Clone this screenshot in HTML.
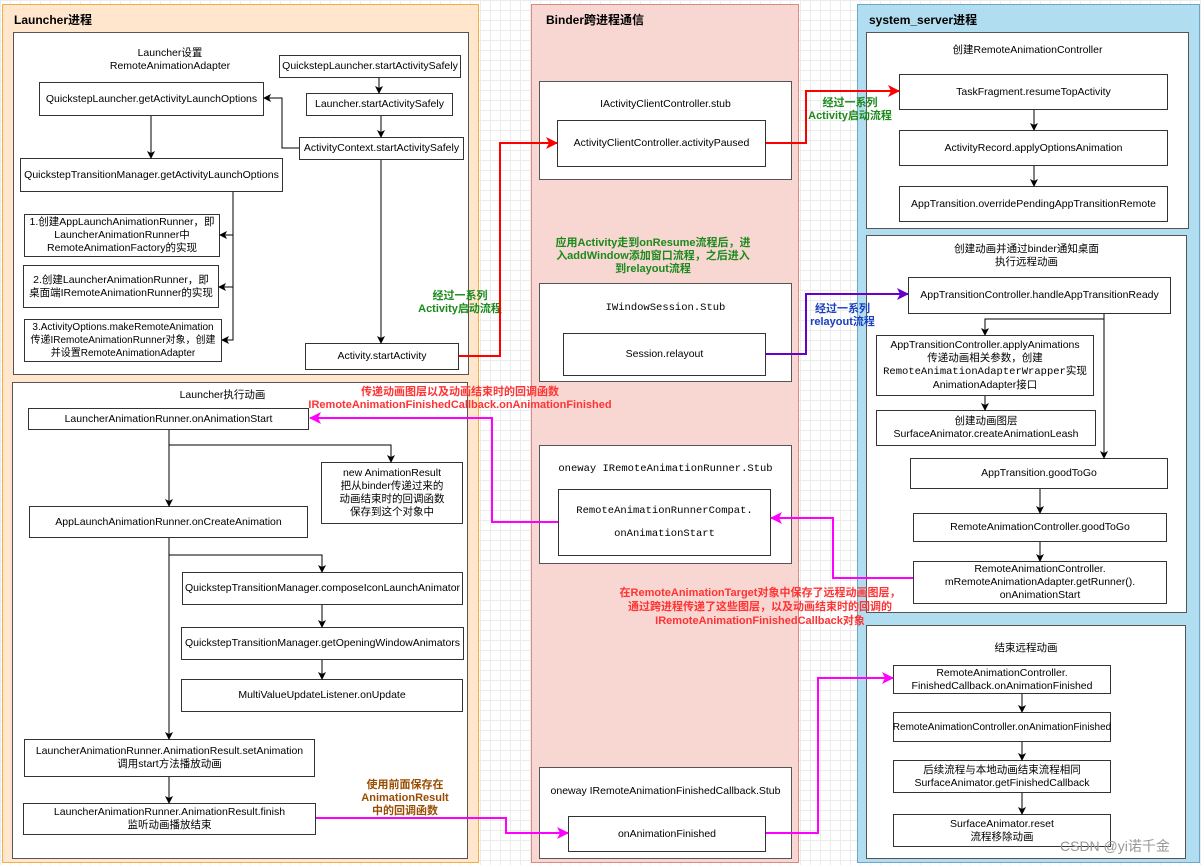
<!DOCTYPE html>
<html><head><meta charset="utf-8"><style>
body{margin:0;width:1201px;height:865px;overflow:hidden;position:relative;font-family:"Liberation Sans","Noto Sans CJK SC",sans-serif;font-size:10.5px;color:#000;
background-color:#fff;background-image:linear-gradient(#ececec 1px,transparent 1px),linear-gradient(90deg,#ececec 1px,transparent 1px);background-size:10px 10px;}
div{position:absolute;box-sizing:border-box}
.c{display:flex;align-items:center;justify-content:center;text-align:center;line-height:13px;white-space:nowrap}
.b{background:#fff;border:1px solid #333}
.g{border:1px solid #555;background:#fff}
.t{font-weight:bold;font-size:12px}
.m{font-family:"Liberation Mono","Noto Sans CJK SC",monospace}
.lab{font-weight:bold;text-align:center;line-height:13px;font-size:11px}
svg{position:absolute;left:0;top:0}
</style></head><body>
<div style="left:2px;top:4px;width:477px;height:859px;background:#ffe6cc;border:1px solid #f0b046"></div>
<div style="left:531px;top:4px;width:268px;height:859px;background:#f8d6d2;border:1px solid #d98a84"></div>
<div style="left:857px;top:4px;width:343px;height:859px;background:#b1ddf0;border:1px solid #6ea6c6"></div>
<div class="t" style="left:14px;top:11px">Launcher进程</div>
<div class="t" style="left:546px;top:11px">Binder跨进程通信</div>
<div class="t" style="left:869px;top:11px">system_server进程</div>

<div class="g" style="left:13px;top:32px;width:456px;height:343px"></div>
<div class="g" style="left:12px;top:382px;width:456px;height:477px"></div>
<div class="g" style="left:866px;top:32px;width:323px;height:197px"></div>
<div class="g" style="left:866px;top:235px;width:321px;height:378px"></div>
<div class="g" style="left:866px;top:625px;width:320px;height:234px"></div>
<div class="g" style="left:539px;top:81px;width:253px;height:99px"></div>
<div class="g" style="left:539px;top:283px;width:253px;height:99px"></div>
<div class="g" style="left:539px;top:445px;width:253px;height:119px"></div>
<div class="g" style="left:539px;top:767px;width:253px;height:92px"></div>

<!-- launcher top -->
<div class="c" style="left:90px;top:46px;width:160px;height:28px"><span>Launcher设置<br>RemoteAnimationAdapter</span></div>
<div class="b c" style="left:279px;top:55px;width:182px;height:23px">QuickstepLauncher.startActivitySafely</div>
<div class="b c" style="left:306px;top:93px;width:147px;height:23px">Launcher.startActivitySafely</div>
<div class="b c" style="left:299px;top:137px;width:165px;height:23px">ActivityContext.startActivitySafely</div>
<div class="b c" style="left:39px;top:82px;width:225px;height:34px">QuickstepLauncher.getActivityLaunchOptions</div>
<div class="b c" style="left:20px;top:158px;width:263px;height:34px">QuickstepTransitionManager.getActivityLaunchOptions</div>
<div class="b c" style="left:24px;top:214px;width:196px;height:43px"><span>1.创建AppLaunchAnimationRunner，即<br>LauncherAnimationRunner中<br>RemoteAnimationFactory的实现</span></div>
<div class="b c" style="left:23px;top:265px;width:196px;height:43px"><span>2.创建LauncherAnimationRunner，即<br>桌面端IRemoteAnimationRunner的实现</span></div>
<div class="b c" style="left:24px;top:319px;width:198px;height:43px;font-size:10px"><span>3.ActivityOptions.makeRemoteAnimation<br>传递IRemoteAnimationRunner对象，创建<br>并设置RemoteAnimationAdapter</span></div>
<div class="b c" style="left:305px;top:343px;width:154px;height:27px">Activity.startActivity</div>

<!-- launcher bottom -->
<div class="c" style="left:150px;top:388px;width:145px;height:15px">Launcher执行动画</div>
<div class="b c" style="left:28px;top:408px;width:281px;height:22px">LauncherAnimationRunner.onAnimationStart</div>
<div class="b c" style="left:321px;top:462px;width:142px;height:62px"><span>new AnimationResult<br>把从binder传递过来的<br>动画结束时的回调函数<br>保存到这个对象中</span></div>
<div class="b c" style="left:29px;top:506px;width:279px;height:32px">AppLaunchAnimationRunner.onCreateAnimation</div>
<div class="b c" style="left:182px;top:572px;width:281px;height:33px">QuickstepTransitionManager.composeIconLaunchAnimator</div>
<div class="b c" style="left:181px;top:627px;width:283px;height:33px">QuickstepTransitionManager.getOpeningWindowAnimators</div>
<div class="b c" style="left:181px;top:679px;width:282px;height:33px">MultiValueUpdateListener.onUpdate</div>
<div class="b c" style="left:24px;top:739px;width:291px;height:38px"><span>LauncherAnimationRunner.AnimationResult.setAnimation<br>调用start方法播放动画</span></div>
<div class="b c" style="left:23px;top:803px;width:293px;height:32px"><span>LauncherAnimationRunner.AnimationResult.finish<br>监听动画播放结束</span></div>

<!-- binder -->
<div class="c" style="left:539px;top:96px;width:253px;height:16px">IActivityClientController.stub</div>
<div class="b c" style="left:557px;top:120px;width:209px;height:47px">ActivityClientController.activityPaused</div>
<div class="c m" style="left:539px;top:300px;width:253px;height:16px">IWindowSession.Stub</div>
<div class="b c" style="left:563px;top:333px;width:203px;height:43px">Session.relayout</div>
<div class="c m" style="left:539px;top:461px;width:253px;height:16px">oneway IRemoteAnimationRunner.Stub</div>
<div class="b c m" style="left:558px;top:489px;width:213px;height:67px;line-height:23px"><span>RemoteAnimationRunnerCompat.<br>onAnimationStart</span></div>
<div class="c" style="left:539px;top:783px;width:253px;height:16px">oneway IRemoteAnimationFinishedCallback.Stub</div>
<div class="b c" style="left:568px;top:816px;width:198px;height:36px">onAnimationFinished</div>

<!-- system server -->
<div class="c" style="left:866px;top:42px;width:323px;height:16px">创建RemoteAnimationController</div>
<div class="b c" style="left:899px;top:74px;width:269px;height:36px">TaskFragment.resumeTopActivity</div>
<div class="b c" style="left:899px;top:130px;width:269px;height:36px">ActivityRecord.applyOptionsAnimation</div>
<div class="b c" style="left:899px;top:186px;width:269px;height:36px">AppTransition.overridePendingAppTransitionRemote</div>
<div class="c" style="left:866px;top:242px;width:321px;height:28px"><span>创建动画并通过binder通知桌面<br>执行远程动画</span></div>
<div class="b c" style="left:908px;top:277px;width:263px;height:37px">AppTransitionController.handleAppTransitionReady</div>
<div class="b c" style="left:876px;top:335px;width:218px;height:61px"><span>AppTransitionController.applyAnimations<br>传递动画相关参数，创建<br><span class="m">RemoteAnimationAdapterWrapper</span>实现<br>AnimationAdapter接口</span></div>
<div class="b c" style="left:876px;top:410px;width:220px;height:36px"><span>创建动画图层<br>SurfaceAnimator.createAnimationLeash</span></div>
<div class="b c" style="left:910px;top:458px;width:258px;height:31px">AppTransition.goodToGo</div>
<div class="b c" style="left:913px;top:513px;width:254px;height:29px">RemoteAnimationController.goodToGo</div>
<div class="b c" style="left:913px;top:561px;width:254px;height:43px"><span>RemoteAnimationController.<br>mRemoteAnimationAdapter.getRunner().<br>onAnimationStart</span></div>
<div class="c" style="left:866px;top:640px;width:320px;height:16px">结束远程动画</div>
<div class="b c" style="left:893px;top:665px;width:218px;height:29px"><span>RemoteAnimationController.<br>FinishedCallback.onAnimationFinished</span></div>
<div class="b c" style="left:893px;top:712px;width:218px;height:30px;font-size:10px">RemoteAnimationController.onAnimationFinished</div>
<div class="b c" style="left:893px;top:760px;width:218px;height:33px"><span>后续流程与本地动画结束流程相同<br>SurfaceAnimator.getFinishedCallback</span></div>
<div class="b c" style="left:893px;top:814px;width:218px;height:33px"><span>SurfaceAnimator.reset<br>流程移除动画</span></div>

<!-- labels -->
<div class="lab" style="left:400px;top:290px;width:120px;color:#1a8a1a">经过一系列<br>Activity启动流程</div>
<div class="lab" style="left:790px;top:97px;width:120px;color:#1a8a1a">经过一系列<br>Activity启动流程</div>
<div class="lab" style="left:548px;top:237px;width:210px;color:#1a8a1a">应用Activity走到onResume流程后，进<br>入addWindow添加窗口流程，之后进入<br>到relayout流程</div>
<div class="lab" style="left:790px;top:303px;width:105px;color:#1a3fbf">经过一系列<br>relayout流程</div>
<div class="lab" style="left:300px;top:386px;width:320px;color:#ff3333">传递动画图层以及动画结束时的回调函数<br>IRemoteAnimationFinishedCallback.onAnimationFinished</div>
<div class="lab" style="left:590px;top:586px;width:340px;color:#ff3333;line-height:14px">在RemoteAnimationTarget对象中保存了远程动画图层，<br>通过跨进程传递了这些图层，以及动画结束时的回调的<br>IRemoteAnimationFinishedCallback对象</div>
<div class="lab" style="left:340px;top:779px;width:130px;color:#994c00">使用前面保存在<br>AnimationResult<br>中的回调函数</div>
<div style="left:1060px;top:836px;font-size:14px;color:#999">CSDN @yi诺千金</div>

<svg width="1201" height="865" viewBox="0 0 1201 865">
<defs>
<marker id="k" markerWidth="8" markerHeight="8" refX="7" refY="4" orient="auto" markerUnits="userSpaceOnUse"><path d="M0,0L8,4L0,8L2,4z" fill="#000"/></marker>
<marker id="r" markerWidth="12" markerHeight="12" refX="11" refY="6" orient="auto" markerUnits="userSpaceOnUse"><path d="M0,0L12,6L0,12L3,6z" fill="#ff0000"/></marker>
<marker id="p" markerWidth="12" markerHeight="12" refX="11" refY="6" orient="auto" markerUnits="userSpaceOnUse"><path d="M0,0L12,6L0,12L3,6z" fill="#6600cc"/></marker>
<marker id="mg" markerWidth="12" markerHeight="12" refX="11" refY="6" orient="auto" markerUnits="userSpaceOnUse"><path d="M0,0L12,6L0,12L3,6z" fill="#ff00ff"/></marker>
</defs>
<g stroke="#000" fill="none" stroke-width="1" marker-end="url(#k)">
<path d="M379,78V93"/><path d="M381,116V137"/>
<path d="M299,148H282V98H264"/>
<path d="M151,116V158"/>
<path d="M233,192V235H220"/><path d="M233,287H219"/><path d="M233,235V340H222"/>
<path d="M381,160V343"/>
<path d="M169,430V506"/><path d="M169,445H391V462"/>
<path d="M169,538V739"/><path d="M169,555H322V572"/>
<path d="M322,605V627"/><path d="M322,660V679"/>
<path d="M169,777V803"/>
<path d="M1034,110V130"/><path d="M1034,166V186"/>
<path d="M1104,314V458"/><path d="M1104,319H985V335"/>
<path d="M985,396V410"/>
<path d="M1040,489V513"/><path d="M1040,542V561"/>
<path d="M1022,694V712"/><path d="M1022,742V760"/><path d="M1022,793V814"/>
</g>
<g fill="none" stroke-width="2">
<path d="M459,356H500V143H557" stroke="#ff0000" marker-end="url(#r)"/>
<path d="M766,143H806V91H899" stroke="#ff0000" marker-end="url(#r)"/>
<path d="M766,354H806V294H908" stroke="#6600cc" marker-end="url(#p)"/>
<path d="M913,578H833V518H771" stroke="#ff00ff" marker-end="url(#mg)"/>
<path d="M558,522H492V418H310" stroke="#ff00ff" marker-end="url(#mg)"/>
<path d="M766,833H818V678H893" stroke="#ff00ff" marker-end="url(#mg)"/>
<path d="M316,818H506V833H568" stroke="#ff00ff" marker-end="url(#mg)"/>
</g>
</svg>
</body></html>
